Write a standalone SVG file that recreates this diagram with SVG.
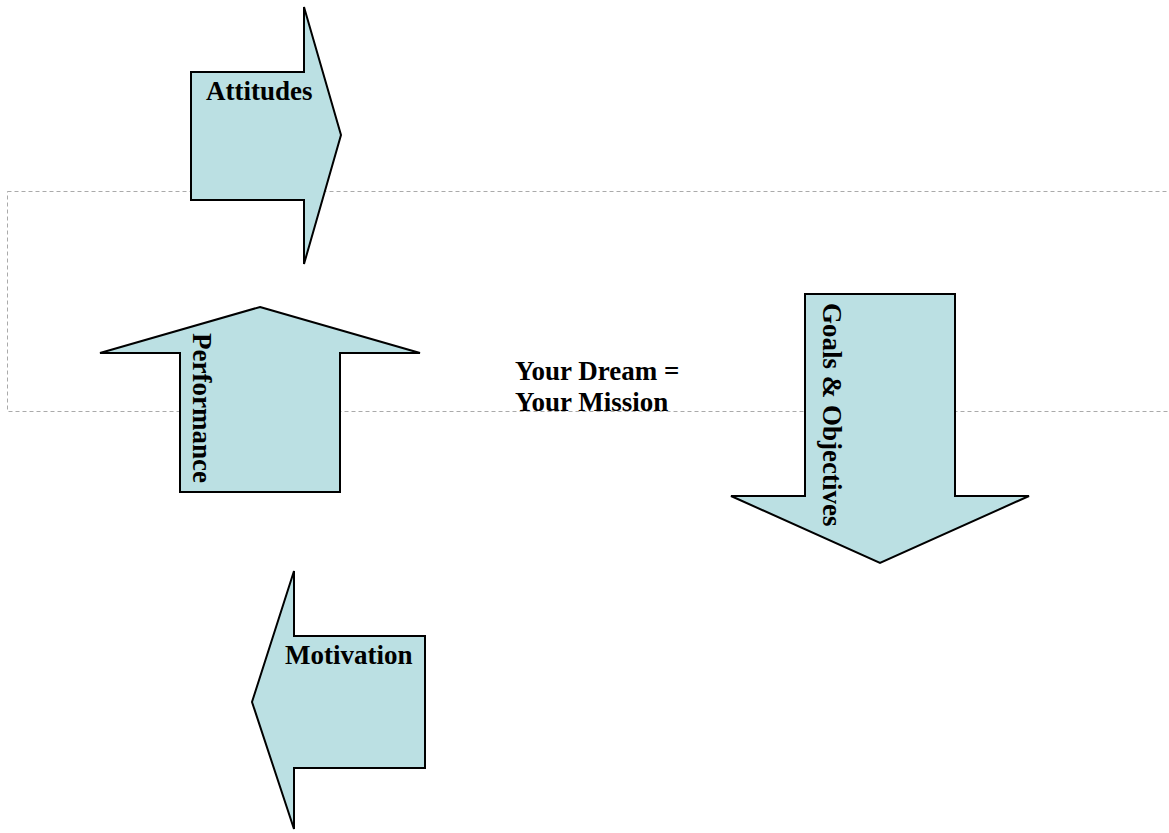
<svg xmlns="http://www.w3.org/2000/svg" width="1169" height="833" viewBox="0 0 1169 833">
<style>
.arrow{fill:#bbe0e3;stroke:#000;stroke-width:2;stroke-linejoin:miter}
.lbl{font-family:"Liberation Serif","Times New Roman",serif;font-weight:bold;font-size:27px;fill:#000}
.frame{fill:none;stroke:#aaa;stroke-width:1;stroke-dasharray:4,3}
</style>
<rect width="1169" height="833" fill="#fff"/>
<g id="frame"><rect class="frame" x="7.5" y="191.5" width="1170" height="220"/></g>
<g id="attitudes">
<polygon class="arrow" points="191,72 304,72 304,7 341,135 304,264 304,200 191,200"/>
<text class="lbl" x="206" y="100">Attitudes</text>
</g>
<g id="performance">
<polygon class="arrow" points="260,307 420,353 340,353 340,492 180,492 180,353 100,353"/>
<text class="lbl" transform="translate(193,333) rotate(90)">Performance</text>
</g>
<g id="goals">
<polygon class="arrow" points="805,294 955,294 955,496 1029,496 880,563 731,496 805,496"/>
<text class="lbl" transform="translate(823,303) rotate(90)">Goals &amp; Objectives</text>
</g>
<g id="motivation">
<polygon class="arrow" points="294,571 294,636 425,636 425,768 294,768 294,829 252,702"/>
<text class="lbl" x="285" y="664">Motivation</text>
</g>
<g id="center">
<text class="lbl" x="515" y="380">Your Dream =</text>
<text class="lbl" x="515" y="411">Your Mission</text>
</g>
<g id="connectors"></g>
</svg>
